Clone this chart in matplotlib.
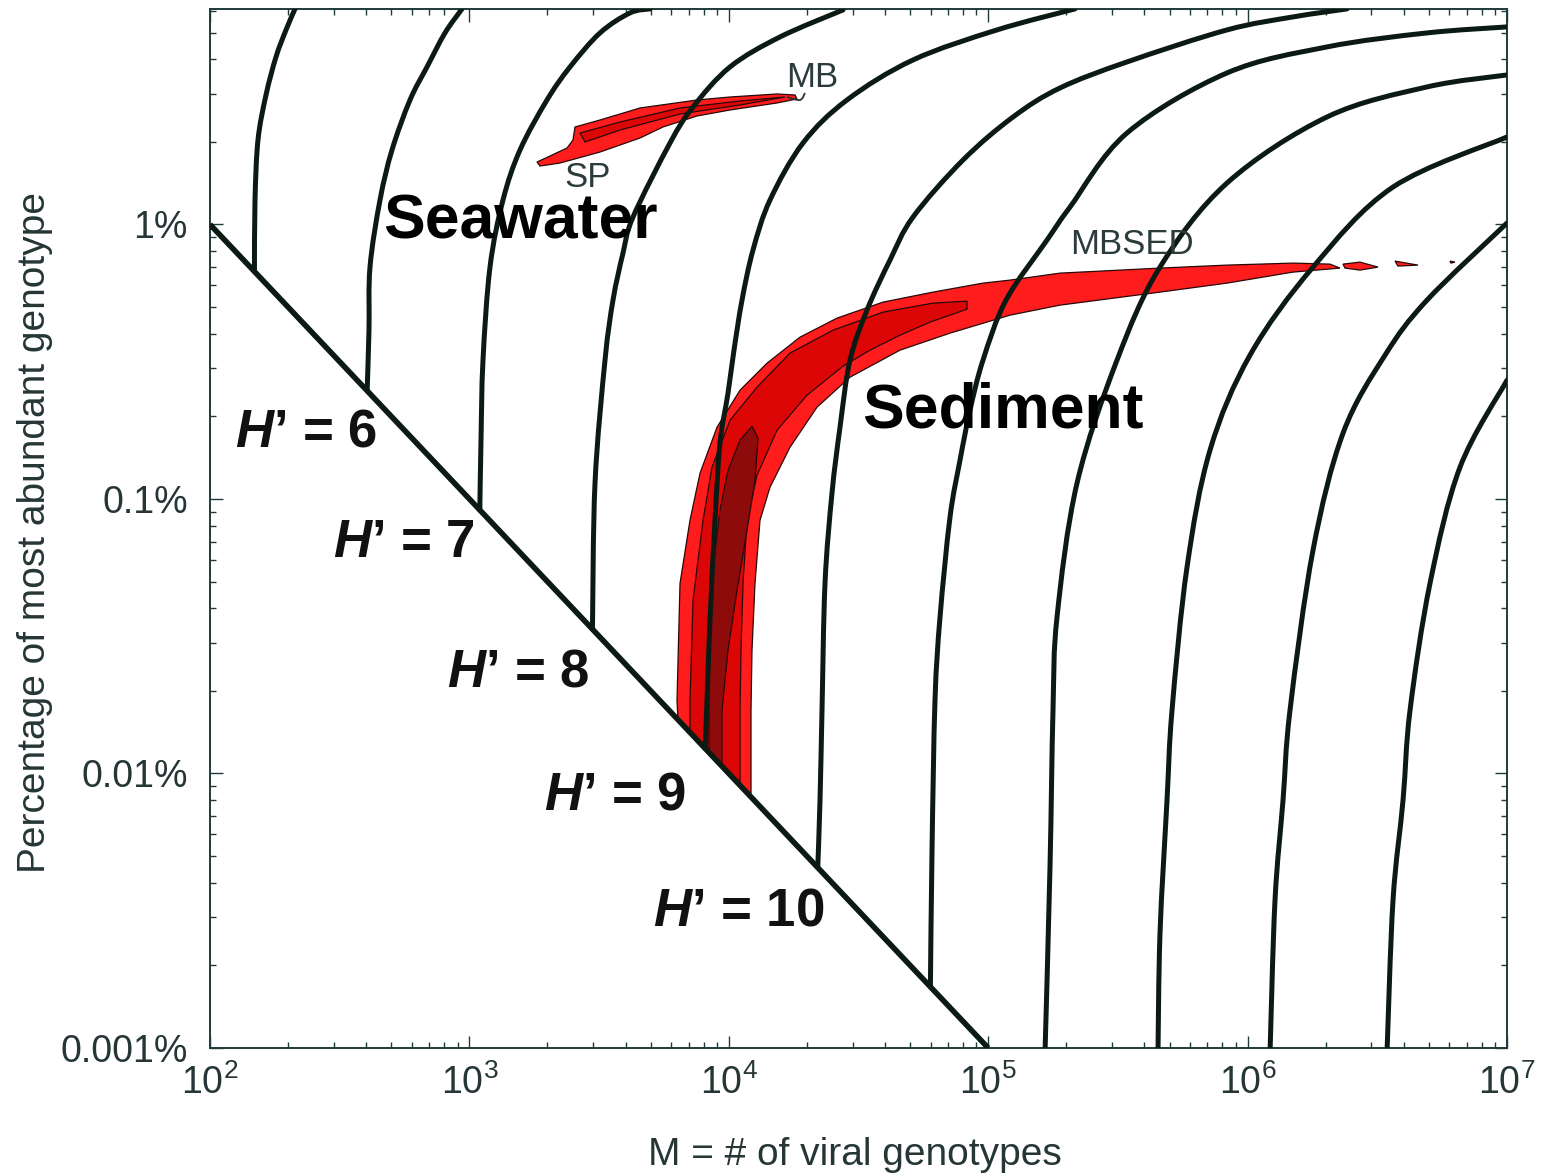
import numpy as np
import matplotlib
matplotlib.use("Agg")
import matplotlib.pyplot as plt
from matplotlib.ticker import FixedLocator, FixedFormatter, LogLocator, NullFormatter
from matplotlib.patches import Polygon, PathPatch
from matplotlib.path import Path

plt.rcParams['font.family'] = ['Liberation Sans', 'DejaVu Sans']
plt.rcParams['mathtext.fontset'] = 'custom'
plt.rcParams['mathtext.rm'] = 'Liberation Sans'
plt.rcParams['mathtext.it'] = 'Liberation Sans:italic'
plt.rcParams['mathtext.bf'] = 'Liberation Sans:bold'
plt.rcParams['mathtext.bfit'] = 'Liberation Sans:italic:bold'

# ---------------------------------------------------------------------------
# Data (log10 of M = number of genotypes, log10 of % of most abundant genotype)
# ---------------------------------------------------------------------------
x_limits = [1e2, 1e7]
y_limits = [1e-3, 10 ** 0.785]
y_tick_values = [0.001, 0.01, 0.1, 1]
y_tick_labels = ['0.001%', '0.01%', '0.1%', '1%']

# evenness bound: most abundant share = 1 / M
diag_m = [1e2, 1e5]
diag_pct = [1.0, 0.001]

# iso-diversity lines, H' = 5 ... 15
h_levels = [5, 6, 7, 8, 9, 10, 11, 12, 13, 14, 15]
h5_log_m = [2.1714, 2.1735, 2.1850, 2.2159, 2.2544, 2.2930, 2.3277]
h5_log_pct = [-0.1714, 0.0890, 0.3077, 0.4717, 0.6103, 0.7087, 0.7853]
h6_log_m = [2.6058, 2.6129, 2.6168, 2.6554, 2.7016, 2.7710, 2.8365, 2.9059, 2.9715]
h6_log_pct = [-0.6058, -0.3842, -0.1553, 0.0890, 0.2713, 0.4535, 0.5738, 0.6978, 0.7853]
h7_log_m = [3.0401, 3.0447, 3.0524, 3.0794, 3.1295, 3.1951, 3.2991, 3.3878,
            3.5035, 3.6191, 3.6962]
h7_log_pct = [-1.0401, -0.7860, -0.4944, -0.1553, 0.0890, 0.2713, 0.4535, 0.5738,
              0.6978, 0.7707, 0.7853]
h8_log_m = [3.4744, 3.4842, 3.5228, 3.5536, 3.5921, 3.6307, 3.7733, 3.8620,
            4.0046, 4.1974, 4.4403]
h8_log_pct = [-1.4744, -0.9428, -0.4944, -0.2756, -0.1043, 0.0270, 0.2968, 0.4280,
              0.5738, 0.6832, 0.7816]
h9_log_m = [3.9087, 3.9160, 3.9275, 3.9468, 3.9660, 3.9969, 4.0200, 4.0509, 4.0933,
            4.1588, 4.2860, 4.4557, 4.7101, 5.0339, 5.3346]
h9_log_pct = [-1.9087, -1.7339, -1.4422, -1.0776, -0.7969, -0.6146, -0.4579, -0.2756, -0.0933,
              0.0890, 0.2968, 0.4535, 0.5993, 0.7087, 0.7853]
h10_log_m = [4.3429, 4.3516, 4.3593, 4.3709, 4.3978, 4.4287, 4.4672, 4.5327, 4.6214,
             4.7101, 4.9029, 5.0956, 5.2768, 5.5351, 5.9206, 6.1750, 6.3832]
h10_log_pct = [-2.3429, -2.0984, -1.7703, -1.3073, -0.9792, -0.7386, -0.4944, -0.3121, -0.1298,
               0.0270, 0.2348, 0.3915, 0.4973, 0.5921, 0.7087, 0.7561, 0.7853]
h11_log_m = [4.7772, 4.7834, 4.7949, 4.8142, 4.8527, 4.8913, 4.9298, 4.9799, 5.0686,
             5.2267, 5.3153, 5.5351, 5.9206, 6.3061, 6.6916, 7.0]
h11_log_pct = [-2.7772, -2.2807, -1.7339, -1.4313, -1.0667, -0.8589, -0.6766, -0.4944, -0.2756,
               -0.0569, 0.0634, 0.3333, 0.5520, 0.6468, 0.6978, 0.7197]
h12_log_m = [5.2189, 5.2382, 5.2498, 5.2652, 5.3423, 5.4965, 5.6623, 5.9206, 6.3061, 6.6916, 7.0]
h12_log_pct = [-3.02, -2.3427, -1.7703, -1.4313, -0.9428, -0.4944, -0.1553, 0.1509, 0.3916,
               0.5010, 0.5447]
h13_log_m = [5.6545, 5.6623, 5.6893, 5.7086, 5.7664, 5.8550, 6.0092, 6.2521, 6.5605, 7.0]
h13_log_pct = [-3.02, -2.5833, -2.0984, -1.7703, -1.2490, -0.8225, -0.4762, -0.1553, 0.1363, 0.3187]
h14_log_m = [6.0863, 6.1056, 6.1365, 6.1634, 6.2521, 6.3678, 6.5297, 6.6916, 7.0]
h14_log_pct = [-3.02, -2.4630, -2.0984, -1.7703, -1.1870, -0.7605, -0.4762, -0.2756, 0.0051]
h15_log_m = [6.5373, 6.5605, 6.5991, 6.6261, 6.7032, 6.8188, 7.0]
h15_log_pct = [-3.02, -2.4630, -2.0984, -1.7703, -1.3073, -0.8844, -0.5673]

# H' labels along the evenness bound
label_levels = [6, 7, 8, 9, 10]
label_log_m = [2.3701, 2.7479, 3.1873, 3.5613, 4.0393]
label_log_pct = [-0.7568, -1.1615, -1.6318, -2.0802, -2.5031]

# sediment (MBSED) likelihood regions
sed_outer_log_m = [3.8041, 3.8003, 3.8119, 3.8504, 3.8890, 3.9545, 4.0432, 4.1473, 4.2745,
                   4.4171, 4.5944, 4.7872, 4.9799, 5.0840, 5.2768, 5.6623, 5.9206, 6.1750,
                   6.3176, 6.3562, 6.1750, 5.9206, 5.6623, 5.2768, 5.0840, 4.8527, 4.6600,
                   4.4672, 4.3400, 4.2359, 4.1588, 4.1203, 4.1010, 4.0894, 4.0856, 4.0856]
sed_outer_log_pct = [-1.8041, -1.7338, -1.3073, -1.0776, -0.9063, -0.7386, -0.6037, -0.5053,
                     -0.4105, -0.3412, -0.2829, -0.2464, -0.2136, -0.2027, -0.1772, -0.1589,
                     -0.1480, -0.1407, -0.1444, -0.1589, -0.1735, -0.2136, -0.2464, -0.2938,
                     -0.3303, -0.3959, -0.4579, -0.5563, -0.6657, -0.8115, -0.9573, -1.0776,
                     -1.3073, -1.5516, -1.7703, -2.0856]
sed_mid_log_m = [3.8504, 3.8504, 3.8620, 3.9006, 3.9352, 4.0046, 4.1087, 4.2359, 4.4017,
                 4.5944, 4.7872, 4.9183, 4.9183, 4.7756, 4.6600, 4.5443, 4.4403, 4.3014,
                 4.1858, 4.1087, 4.0702, 4.0547, 4.0470, 4.0432, 4.0432]
sed_mid_log_pct = [-1.8504, -1.7338, -1.3693, -1.0776, -0.8844, -0.7131, -0.5928, -0.4688,
                   -0.3850, -0.3194, -0.2865, -0.2793, -0.3084, -0.3558, -0.4032, -0.4579,
                   -0.5162, -0.6219, -0.7495, -0.9136, -1.0776, -1.3073, -1.5516, -1.7703,
                   -2.0432]
sed_core_log_m = [3.9236, 3.9236, 3.9275, 3.9429, 3.9660, 3.9969, 4.0432, 4.0894, 4.1126,
                  4.1010, 4.0702, 4.0316, 3.9969, 3.9737, 3.9737]
sed_core_log_pct = [-1.9236, -1.7338, -1.4422, -1.2235, -1.0412, -0.8954, -0.7860, -0.7350,
                    -0.7787, -0.9318, -1.1141, -1.3328, -1.5516, -1.7703, -1.9737]
sed_bits_log_m = [[6.3678, 6.4333, 6.5027, 6.4333, 6.3755],
                  [6.5682, 6.6569, 6.5797],
                  [6.7802, 6.7995, 6.7840]]
sed_bits_log_pct = [[-0.1444, -0.1371, -0.1553, -0.1662, -0.1589],
                    [-0.1334, -0.1480, -0.1516],
                    [-0.1334, -0.1371, -0.1407]]

# seawater (SP / MB) likelihood regions
sea_outer_log_m = [3.2606, 3.3107, 3.3762, 3.3994, 3.4071, 3.5035, 3.6577, 3.8774, 4.0046,
                   4.1858, 4.2552, 4.2629, 4.1858, 4.0046, 3.8774, 3.7463, 3.6577, 3.5035,
                   3.3492, 3.2722]
sea_outer_log_pct = [0.2275, 0.2494, 0.2785, 0.3077, 0.3551, 0.3806, 0.4243, 0.4535, 0.4644,
                     0.4754, 0.4717, 0.4572, 0.4426, 0.4171, 0.3952, 0.3551, 0.3150, 0.2639,
                     0.2238, 0.2129]
sea_inner_log_m = [3.4264, 3.5806, 3.8119, 4.0432, 4.2166, 4.0432, 3.8119, 3.5806, 3.4456]
sea_inner_log_pct = [0.3332, 0.3733, 0.4243, 0.4499, 0.4644, 0.4353, 0.4025, 0.3441, 0.3004]
mb_hook_log_m = [4.2243, 4.2745, 4.2937]
mb_hook_log_pct = [0.4644, 0.4535, 0.4790]

# sample names
sample_names = ['MB', 'SP', 'MBSED']
sample_log_m = [4.3207, 3.4572, 5.5543]
sample_log_pct = [0.5337, 0.1700, -0.0715]

# environment names
env_names = ['Seawater', 'Sediment']
env_log_m = [3.1951, 5.0570]
env_log_pct = [0.0090, -0.6803]

# ---------------------------------------------------------------------------
LINE = '#0b1a13'
AXIS = '#1f3a3a'
TEXT = '#263636'
RED_OUTER = '#ff1c1c'
RED_MID = '#dc0606'
RED_CORE = '#8e0b0b'
EDGE = '#2a0808'

fig = plt.figure(figsize=(15.43, 11.75), dpi=100)
ax = fig.add_axes([0.13610, 0.10809, 0.84057, 0.88426])
ax.set_xscale('log')
ax.set_yscale('log')
ax.set_xlim(*x_limits)
ax.set_ylim(*y_limits)


def pts(log_m, log_pct):
    return np.column_stack([10 ** np.asarray(log_m), 10 ** np.asarray(log_pct)])


def region(log_m, log_pct, color, z):
    ax.add_patch(Polygon(pts(log_m, log_pct), closed=True, facecolor=color,
                         edgecolor=EDGE, linewidth=0.9, zorder=z))


def smooth_path(log_m, log_pct):
    """Cubic Bezier path through the given points (Catmull-Rom tangents, log space)."""
    p = np.column_stack([log_m, log_pct]).astype(float)
    ext = np.vstack([p[0], p, p[-1]])
    verts = [p[0]]
    codes = [Path.MOVETO]
    for i in range(len(p) - 1):
        a, b, c, d = ext[i], ext[i + 1], ext[i + 2], ext[i + 3]
        verts += [b + (c - a) / 6.0, c - (d - b) / 6.0, c]
        codes += [Path.CURVE4] * 3
    verts = 10 ** np.array(verts)
    return Path(verts, codes)


# likelihood regions
region(sed_outer_log_m, sed_outer_log_pct, RED_OUTER, 2)
region(sed_mid_log_m, sed_mid_log_pct, RED_MID, 2.1)
region(sed_core_log_m, sed_core_log_pct, RED_CORE, 2.2)
for bm, bp in zip(sed_bits_log_m, sed_bits_log_pct):
    region(bm, bp, RED_OUTER, 2)
region(sea_outer_log_m, sea_outer_log_pct, RED_OUTER, 2)
region(sea_inner_log_m, sea_inner_log_pct, RED_MID, 2.1)
ax.add_patch(PathPatch(smooth_path(mb_hook_log_m, mb_hook_log_pct), fill=False,
                       edgecolor=TEXT, lw=1.3, zorder=2.3))

# iso-diversity lines
curves_m = [h5_log_m, h6_log_m, h7_log_m, h8_log_m, h9_log_m, h10_log_m,
            h11_log_m, h12_log_m, h13_log_m, h14_log_m, h15_log_m]
curves_p = [h5_log_pct, h6_log_pct, h7_log_pct, h8_log_pct, h9_log_pct, h10_log_pct,
            h11_log_pct, h12_log_pct, h13_log_pct, h14_log_pct, h15_log_pct]
for lm, lp in zip(curves_m, curves_p):
    ax.add_patch(PathPatch(smooth_path(lm, lp), fill=False, edgecolor=LINE, lw=3.6,
                           joinstyle='round', capstyle='round', zorder=3))

ax.plot(diag_m, diag_pct, color=LINE, lw=4.0, solid_capstyle='butt', zorder=3.5)

# H' labels
for lev, lm, lp in zip(label_levels, label_log_m, label_log_pct):
    ax.text(10 ** lm, 10 ** lp, r"$\mathbfit{H}$" + "\u2019 = " + str(lev),
            fontsize=38, fontweight='bold', color='#111111', ha='center', va='center',
            zorder=5)

for name, lm, lp in zip(sample_names, sample_log_m, sample_log_pct):
    ax.text(10 ** lm, 10 ** lp, name, fontsize=25, color='#2c3b3b',
            ha='center', va='center', zorder=5)

for name, lm, lp in zip(env_names, env_log_m, env_log_pct):
    ax.text(10 ** lm, 10 ** lp, name, fontsize=45, fontweight='bold', color='black',
            ha='center', va='center', zorder=5)

# axes styling
ax.yaxis.set_major_locator(FixedLocator(y_tick_values))
ax.yaxis.set_major_formatter(FixedFormatter(y_tick_labels))
ax.yaxis.set_minor_locator(LogLocator(base=10, subs=np.arange(2, 10)))
ax.yaxis.set_minor_formatter(NullFormatter())
ax.xaxis.set_major_locator(LogLocator(base=10, numticks=10))
ax.xaxis.set_minor_locator(LogLocator(base=10, subs=np.arange(2, 10), numticks=20))
ax.xaxis.set_minor_formatter(NullFormatter())

ax.tick_params(which='both', direction='in', top=True, right=True,
               color=AXIS, width=1.0, labelcolor=TEXT, labelsize=27)
ax.tick_params(which='major', length=9)
ax.tick_params(which='minor', length=4.5)
ax.tick_params(axis='y', pad=16)
ax.tick_params(axis='x', pad=12)
for sp in ax.spines.values():
    sp.set_color(AXIS)
    sp.set_linewidth(1.4)

fig.text(0.5541, 0.0170, 'M = # of viral genotypes', fontsize=28, color=TEXT,
         ha='center', va='center')
fig.text(0.0227, 0.5472, 'Percentage of most abundant genotype', fontsize=28, color=TEXT,
         ha='center', va='center', rotation=90)

fig.savefig('out.png', dpi=100)
